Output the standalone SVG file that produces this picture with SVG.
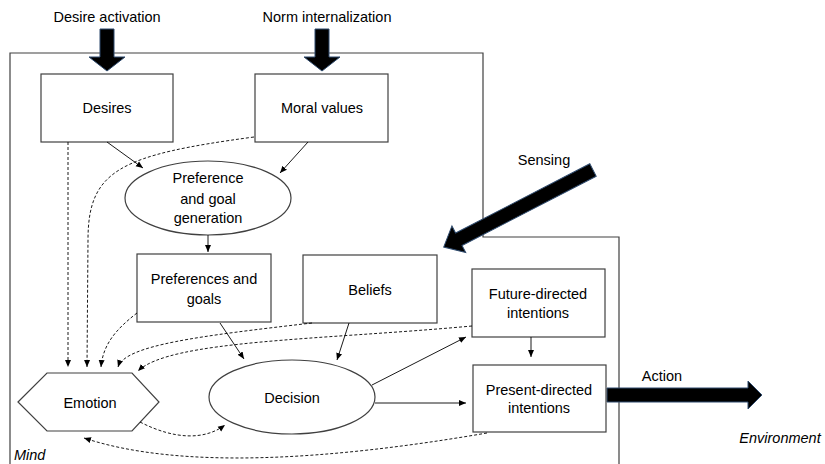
<svg xmlns="http://www.w3.org/2000/svg" width="825" height="464" viewBox="0 0 825 464">
<defs>
<marker id="ah" markerUnits="userSpaceOnUse" markerWidth="8" markerHeight="8" refX="7" refY="4" orient="auto">
<path d="M0,1 L7,4 L0,7 Z" fill="#000"/>
</marker>
<style>
.box{fill:#fff;stroke:#404040;stroke-width:1.2}
.t{font-family:"Liberation Sans",Arial,sans-serif;font-size:14.5px;fill:#000;text-anchor:middle}
.i{font-style:italic}
.c{fill:none;stroke:#000;stroke-width:0.9;marker-end:url(#ah)}
.d{stroke-dasharray:3,2}
.big{fill:#000;stroke:#2f4b6e;stroke-width:1}
.mind{fill:none;stroke:#404040;stroke-width:1.2}
</style>
</defs>
<rect width="825" height="464" fill="#fff"/>
<path class="mind" d="M10,464 V53 H483 V237 H619 V464"/>
<text class="t i" x="14" y="460" style="text-anchor:start">Mind</text>
<text class="t i" x="780" y="443">Environment</text>
<g id="inputs">
<text class="t" x="107" y="22">Desire activation</text>
<polygon class="big" points="100,29 114,29 114,57 125,57 107,71 89,57 100,57"/>
<text class="t" x="327" y="22">Norm internalization</text>
<polygon class="big" points="315,29 329,29 329,57 340,57 322,71 304,57 315,57"/>
<text class="t" x="544" y="165">Sensing</text>
<polygon class="big" transform="translate(593,170) rotate(152.7)" points="0,-7 151,-7 151,-15 168,0 151,15 151,7 0,7"/>
<text class="t" x="662" y="381">Action</text>
<polygon class="big" points="607,388 748,388 748,381 762,395 748,409 748,402 607,402"/>
</g>
<g id="desires"><rect class="box" x="41" y="74" width="132" height="68"/><text class="t" x="107" y="113">Desires</text></g>
<g id="moral"><rect class="box" x="255" y="74" width="133" height="68"/><text class="t" x="322" y="113">Moral values</text></g>
<g id="pgg"><ellipse class="box" cx="208" cy="198" rx="83" ry="37"/><text class="t" x="208" y="183">Preference</text><text class="t" x="208" y="204">and goal</text><text class="t" x="208" y="223">generation</text></g>
<g id="prefs"><rect class="box" x="137" y="254" width="134" height="68"/><text class="t" x="204" y="284">Preferences and</text><text class="t" x="204" y="304">goals</text></g>
<g id="beliefs"><rect class="box" x="303" y="255" width="134" height="68"/><text class="t" x="370" y="295">Beliefs</text></g>
<g id="future"><rect class="box" x="472" y="269" width="133" height="68"/><text class="t" x="538" y="299">Future-directed</text><text class="t" x="538" y="318">intentions</text></g>
<g id="present"><rect class="box" x="473" y="365" width="133" height="67"/><text class="t" x="539" y="395">Present-directed</text><text class="t" x="539" y="413">intentions</text></g>
<g id="emotion"><polygon class="box" points="18,402 47,373 132,373 159,402 132,431 47,431"/><text class="t" x="90" y="408">Emotion</text></g>
<g id="decision"><ellipse class="box" cx="292" cy="397" rx="83" ry="37"/><text class="t" x="292" y="403">Decision</text></g>
<g id="connectors">
<path class="c" d="M107,142 L143,168"/>
<path class="c" d="M308,142 L280,173"/>
<path class="c" d="M208,235 L208,252"/>
<path class="c" d="M220,323 L244,359"/>
<path class="c" d="M349,323 L337,360"/>
<path class="c" d="M372,385 L466,337"/>
<path class="c" d="M375,403 L466,403"/>
<path class="c" d="M531,337 L531,357"/>
<path class="c d" d="M68,142 V367"/>
<path class="c d" d="M254,137 C120,155 88,170 88,240 L87,367"/>
<path class="c d" d="M137,313 C115,330 103,345 101,367"/>
<path class="c d" d="M312,323 C200,336 125,345 118,367"/>
<path class="c d" d="M472,326 C320,340 170,340 138,371"/>
<path class="c d" d="M487,433 C330,460 180,470 84,438"/>
<path class="c d" d="M140,422 C175,440 205,440 225,425"/>
</g>
</svg>
